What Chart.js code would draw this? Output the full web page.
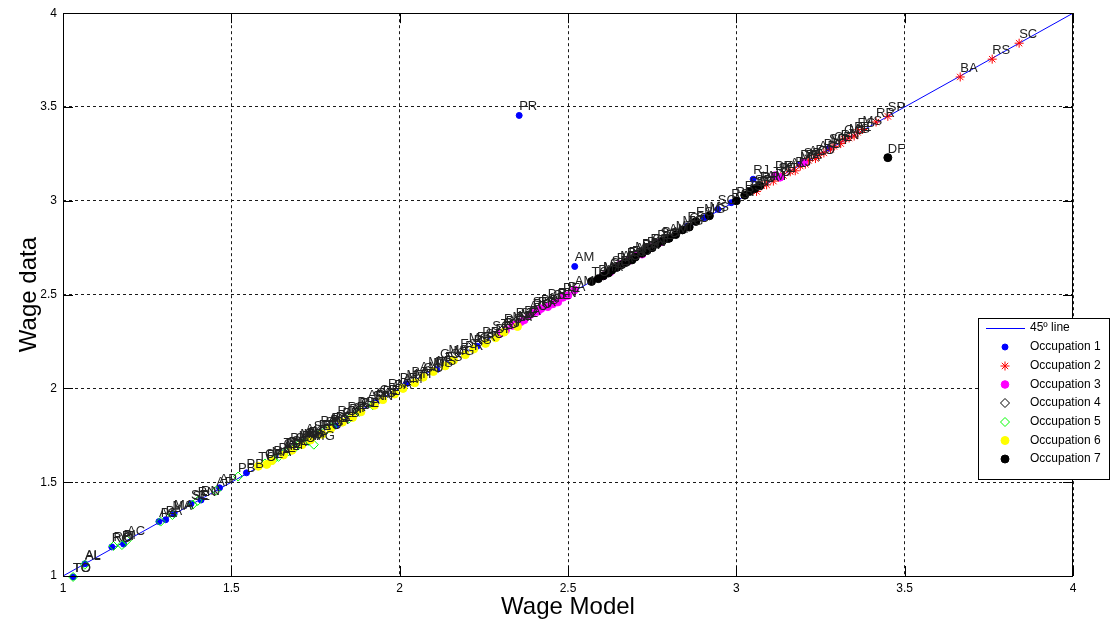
<!DOCTYPE html>
<html>
<head>
<meta charset="utf-8">
<title>Wage model vs wage data</title>
<script src="https://cdn.jsdelivr.net/npm/chart.js@4.4.1/dist/chart.umd.min.js"></script>
<style>
  html, body { margin: 0; padding: 0; background: #ffffff; }
  #wrap { width: 1114px; height: 626px; }
</style>
</head>
<body>
<div id="wrap"><canvas id="c" width="1114" height="626"></canvas></div>
<script>
// Axis ticks
const xTicks = [1, 1.5, 2, 2.5, 3, 3.5, 4];
const yTicks = [1, 1.5, 2, 2.5, 3, 3.5, 4];

// 45 degree reference line
const refLine = [1, 4];

// Occupation 1
const occ1States = ['TO','AL','RO','PI','AC','PA','MA','SE','RN','AP','PB','CE','BA','PE','GO','MT','MS','RR','PR','AM','ES','MG','SC','RS','RJ','DF','SP'];
const occ1Model  = [1.03,1.065,1.145,1.18,1.285,1.305,1.33,1.38,1.41,1.465,1.545,1.655,1.725,1.81,1.93,2.02,2.11,2.23,2.355,2.52,2.855,2.905,2.945,2.985,3.05,3.19,3.275];
const occ1Data   = [0.995,1.065,1.155,1.17,1.29,1.30,1.33,1.385,1.405,1.47,1.55,1.655,1.715,1.80,1.925,2.025,2.10,2.225,3.455,2.65,2.865,2.91,2.955,2.99,3.115,3.195,3.28];

// Occupation 2
const occ2States = ['DF','PR','AM','TO','SE','PI','AL','RJ','MA','PA','AC','RO','AP','PB','MT','CE','RN','GO','MG','PE','ES','MS','RR','SP','BA','RS','SC'];
const occ2Model  = [3.06,3.075,3.09,3.11,3.125,3.14,3.16,3.175,3.19,3.205,3.215,3.235,3.245,3.26,3.28,3.29,3.31,3.32,3.335,3.35,3.36,3.375,3.415,3.45,3.665,3.76,3.84];
const occ2Data   = [3.05,3.08,3.085,3.105,3.125,3.135,3.155,3.16,3.185,3.195,3.215,3.225,3.245,3.255,3.275,3.29,3.305,3.33,3.335,3.345,3.365,3.38,3.42,3.45,3.66,3.755,3.84];

// Occupation 3
const occ3States = ['TO','PI','MA','AL','SE','PA','AC','RO','RR','PB','AP','CE','RN','PE','BA','AM','MT','GO','MS','ES','MG','PR','RS','SC','DF','RJ','SP'];
const occ3Model  = [2.30,2.315,2.335,2.345,2.36,2.37,2.385,2.395,2.41,2.42,2.44,2.455,2.47,2.485,2.50,2.52,2.605,2.625,2.655,2.68,2.70,2.72,2.745,2.775,3.115,3.13,3.20];
const occ3Data   = [2.295,2.31,2.335,2.34,2.355,2.365,2.39,2.40,2.41,2.425,2.435,2.45,2.46,2.485,2.495,2.525,2.60,2.62,2.66,2.68,2.705,2.715,2.75,2.78,3.135,3.125,3.205];

// Occupation 4
const occ4States = ['TO','PI','MA','AL','SE','PA','AC','RO','RR','PB','AP','CE','RN','PE','BA','AM','MT','GO','MS','ES','MG','PR','SC','RS','RJ','SP','DF'];
const occ4Model  = [1.655,1.675,1.705,1.72,1.745,1.765,1.79,1.815,1.845,1.875,1.905,1.94,1.965,2.00,2.035,2.06,2.085,2.12,2.145,2.18,2.205,2.245,2.275,2.31,2.345,2.395,2.44];
const occ4Data   = [1.66,1.685,1.71,1.735,1.75,1.78,1.795,1.83,1.855,1.88,1.915,1.945,1.975,2.01,2.04,2.065,2.095,2.135,2.155,2.19,2.22,2.255,2.285,2.32,2.355,2.41,2.455];

// Occupation 5
const occ5States = ['TO','AL','RO','PI','AC','PA','MA','SE','RN','AP','PB','CE','BA','PE','AM','RR','GO','MT','MS','ES','MG','PR','SC','RS','DF','RJ','SP'];
const occ5Model  = [1.03,1.065,1.15,1.175,1.19,1.29,1.325,1.385,1.40,1.455,1.52,1.60,1.625,1.64,1.655,1.67,1.69,1.70,1.715,1.73,1.745,1.76,1.78,1.80,1.85,1.88,1.92];
const occ5Data   = [0.995,1.06,1.16,1.165,1.19,1.29,1.325,1.38,1.40,1.455,1.53,1.60,1.62,1.635,1.65,1.665,1.685,1.70,1.71,1.72,1.70,1.755,1.775,1.795,1.84,1.875,1.91];

// Occupation 6
const occ6States = ['TO','PI','MA','AL','SE','PA','AC','RO','RR','PB','AP','CE','RN','PE','BA','AM','MT','GO','MS','ES','MG','PR','RS','SC','DF','RJ','SP'];
const occ6Model  = [1.58,1.605,1.62,1.655,1.68,1.71,1.735,1.77,1.795,1.83,1.86,1.885,1.925,1.95,1.985,2.01,2.045,2.07,2.10,2.135,2.16,2.195,2.22,2.255,2.285,2.31,2.35];
const occ6Data   = [1.585,1.595,1.615,1.645,1.67,1.70,1.725,1.755,1.785,1.82,1.845,1.875,1.91,1.94,1.97,2.00,2.03,2.06,2.09,2.12,2.15,2.18,2.21,2.24,2.27,2.30,2.33];

// Occupation 7
const occ7States = ['TO','PI','MA','AL','SE','PA','AC','RR','RO','AP','PB','RN','CE','PE','BA','AM','MT','MG','GO','ES','MS','PR','RS','SC','SP','RJ','DF'];
const occ7Model  = [2.57,2.59,2.605,2.62,2.63,2.645,2.66,2.675,2.69,2.70,2.72,2.735,2.75,2.765,2.78,2.80,2.82,2.84,2.86,2.88,2.92,3.00,3.025,3.04,3.055,3.07,3.45];
const occ7Data   = [2.57,2.585,2.60,2.615,2.63,2.645,2.66,2.675,2.685,2.70,2.72,2.735,2.75,2.77,2.785,2.80,2.82,2.845,2.86,2.89,2.92,3.00,3.03,3.05,3.065,3.08,3.23];

const legendNames = ['45º line','Occupation 1','Occupation 2','Occupation 3','Occupation 4','Occupation 5','Occupation 6','Occupation 7'];

const FONT = '"Liberation Sans", Arial, Helvetica, sans-serif';

function pts(xs, ys) { return xs.map((x, i) => ({ x: x, y: ys[i] })); }

function markerSet(name, xs, ys, states, style) {
  return Object.assign({
    type: 'scatter',
    label: name,
    data: pts(xs, ys),
    states: states,
    borderWidth: 1,
    clip: false
  }, style);
}

const datasets = [
  markerSet(legendNames[7], occ7Model, occ7Data, occ7States,
    { pointStyle: 'circle', pointRadius: 4, backgroundColor: '#000000', borderColor: '#000000', order: 1 }),
  markerSet(legendNames[6], occ6Model, occ6Data, occ6States,
    { pointStyle: 'circle', pointRadius: 4, backgroundColor: '#ffff00', borderColor: '#ffff00', order: 2 }),
  markerSet(legendNames[5], occ5Model, occ5Data, occ5States,
    { pointStyle: 'rectRot', pointRadius: 4.5, backgroundColor: 'rgba(0,0,0,0)', borderColor: '#00ff00', order: 3 }),
  markerSet(legendNames[4], occ4Model, occ4Data, occ4States,
    { pointStyle: 'rectRot', pointRadius: 4.5, backgroundColor: 'rgba(0,0,0,0)', borderColor: '#000000', order: 4 }),
  markerSet(legendNames[3], occ3Model, occ3Data, occ3States,
    { pointStyle: 'circle', pointRadius: 3.8, backgroundColor: '#ff00ff', borderColor: '#ff00ff', order: 5 }),
  markerSet(legendNames[2], occ2Model, occ2Data, occ2States,
    { pointStyle: 'star', pointRadius: 4.5, backgroundColor: '#ff0000', borderColor: '#ff0000', order: 6 }),
  markerSet(legendNames[1], occ1Model, occ1Data, occ1States,
    { pointStyle: 'circle', pointRadius: 3, backgroundColor: '#0000ff', borderColor: '#0000ff', order: 7 }),
  {
    type: 'scatter',
    label: legendNames[0],
    data: pts(refLine, refLine),
    showLine: true,
    borderColor: '#0000ff',
    backgroundColor: '#0000ff',
    borderWidth: 1,
    pointRadius: 0,
    order: 8
  }
];

// Frame, inward ticks, axis titles, point labels and the boxed legend
const decorations = {
  id: 'decorations',
  afterDatasetsDraw(chart) {
    const ctx = chart.ctx;
    const a = chart.chartArea;
    const xs = chart.scales.x, ys = chart.scales.y;
    ctx.save();

    // state labels next to each marker
    ctx.font = '13px ' + FONT;
    ctx.fillStyle = '#222222';
    ctx.textAlign = 'left';
    ctx.textBaseline = 'alphabetic';
    chart.data.datasets.forEach((ds, i) => {
      if (!ds.states) return;
      const meta = chart.getDatasetMeta(i);
      meta.data.forEach((el, j) => {
        ctx.fillText(ds.states[j], el.x, el.y - 5);
      });
    });

    // solid frame
    ctx.strokeStyle = '#000000';
    ctx.lineWidth = 1;
    ctx.setLineDash([]);
    ctx.strokeRect(Math.round(a.left) + 0.5, Math.round(a.top) + 0.5,
                   Math.round(a.right - a.left) - 1, Math.round(a.bottom - a.top));

    // inward tick marks on all four sides
    const tl = 10;
    ctx.beginPath();
    xTicks.forEach(v => {
      const px = Math.round(xs.getPixelForValue(v)) + 0.5;
      ctx.moveTo(px, a.bottom); ctx.lineTo(px, a.bottom - tl);
      ctx.moveTo(px, a.top); ctx.lineTo(px, a.top + tl);
    });
    yTicks.forEach(v => {
      const py = Math.round(ys.getPixelForValue(v)) + 0.5;
      ctx.moveTo(a.left, py); ctx.lineTo(a.left + tl, py);
      ctx.moveTo(a.right, py); ctx.lineTo(a.right - tl, py);
    });
    ctx.stroke();

    // axis titles
    ctx.fillStyle = '#000000';
    ctx.font = '24px ' + FONT;
    ctx.textAlign = 'center';
    ctx.textBaseline = 'middle';
    ctx.fillText('Wage Model', (a.left + a.right) / 2, 607);
    ctx.save();
    ctx.translate(29, (a.top + a.bottom) / 2);
    ctx.rotate(-Math.PI / 2);
    ctx.fillText('Wage data', 0, 0);
    ctx.restore();

    // legend box
    const lx = 978, ly = 318, lw = 131, lh = 161;
    ctx.fillStyle = '#ffffff';
    ctx.fillRect(lx, ly, lw, lh);
    ctx.strokeStyle = '#000000';
    ctx.lineWidth = 1;
    ctx.strokeRect(lx + 0.5, ly + 0.5, lw, lh);
    const rows = [328, 347, 366, 384.5, 403, 422, 440.5, 459];
    legendNames.forEach((name, k) => {
      const ds = chart.data.datasets.find(d => d.label === name);
      const y = rows[k];
      ctx.save();
      ctx.setLineDash([]);
      ctx.lineWidth = 1;
      ctx.strokeStyle = ds.borderColor;
      ctx.fillStyle = ds.backgroundColor;
      if (k === 0) {
        ctx.beginPath();
        ctx.moveTo(986, Math.round(y) + 0.5); ctx.lineTo(1025, Math.round(y) + 0.5);
        ctx.stroke();
      } else {
        Chart.helpers.drawPoint(ctx, {
          pointStyle: ds.pointStyle,
          radius: ds.pointRadius,
          borderWidth: 1,
          rotation: 0
        }, 1005, y);
      }
      ctx.restore();
      ctx.font = '12px ' + FONT;
      ctx.textAlign = 'left';
      ctx.textBaseline = 'middle';
      ctx.fillStyle = '#000000';
      ctx.fillText(name, 1030, y);
    });
    ctx.restore();
  }
};

Chart.defaults.font.family = FONT;
Chart.defaults.color = '#000000';

new Chart(document.getElementById('c'), {
  type: 'scatter',
  data: { datasets: datasets },
  options: {
    responsive: false,
    animation: false,
    devicePixelRatio: 1,
    layout: { padding: { top: 13, right: 41, left: 0, bottom: 0 } },
    plugins: { legend: { display: false }, tooltip: { enabled: false } },
    scales: {
      x: {
        type: 'linear', min: 1, max: 4,
        afterBuildTicks: s => { s.ticks = xTicks.map(v => ({ value: v })); },
        afterFit: s => { s.height = 50; },
        ticks: { font: { size: 12 }, padding: 5, maxRotation: 0, callback: v => String(v) },
        grid: { color: '#1a1a1a', lineWidth: 1, drawTicks: false },
        border: { display: false, dash: [3, 3] }
      },
      y: {
        type: 'linear', min: 1, max: 4,
        afterBuildTicks: s => { s.ticks = yTicks.map(v => ({ value: v })); },
        afterFit: s => { s.width = 63; },
        ticks: { font: { size: 12 }, padding: 6, callback: v => String(v) },
        grid: { color: '#1a1a1a', lineWidth: 1, drawTicks: false },
        border: { display: false, dash: [3, 3] }
      }
    }
  },
  plugins: [decorations]
});
</script>
</body>
</html>
